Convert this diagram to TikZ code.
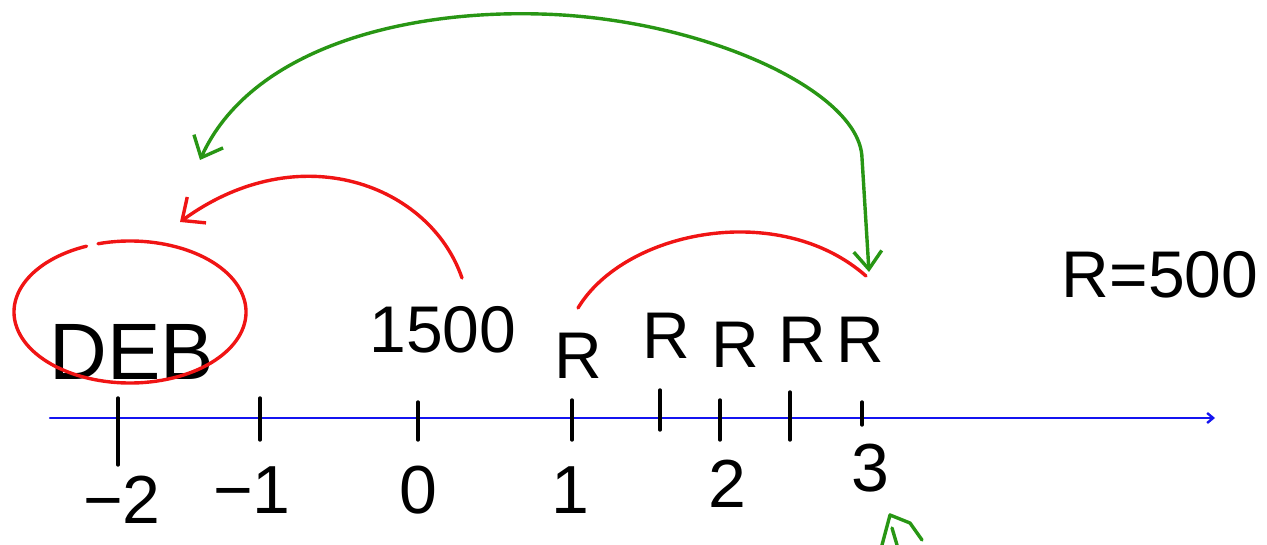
\documentclass[tikz,border=0pt]{standalone}
\usepackage{fontspec}
\setmainfont{Liberation Sans}
\usetikzlibrary{arrows.meta}
\definecolor{penred}{RGB}{240,20,20}
\definecolor{pengreen}{RGB}{40,150,20}
\definecolor{penblue}{RGB}{20,20,240}
\begin{document}
\begin{tikzpicture}[x=0.5pt,y=-0.5pt,line cap=round,line join=round,
  redpen/.style={draw=penred,line width=1.7pt},
  greenpen/.style={draw=pengreen,line width=1.7pt},
  tickline/.style={draw=black,line width=1.7pt},
  bigtxt/.style={inner sep=0pt,font=\fontsize{40}{46}\selectfont},
  midtxt/.style={inner sep=0pt,font=\fontsize{33}{38}\selectfont},
  numtxt/.style={inner sep=0pt,font=\fontsize{34}{40}\selectfont},
  barb/.style={-{Straight Barb[length=9pt,width=16pt,line width=1.7pt]}}]
\useasboundingbox (0,0) rectangle (1267,545);
% axis
\coordinate (axL) at (50,418);
\coordinate (axR) at (1215,418);
\draw[penblue,line width=1.2pt,-{Straight Barb[length=3pt,width=5pt]}] (axL) -- (axR);
% ticks
\foreach \x/\a/\b in {118/398/465,260/398/440,418/402/440,572/400/440,660/390/430,720/400/440,790/392/440,862/402/425}
  \draw[tickline] (\x,\a) -- (\x,\b);
% labels above
\node[bigtxt] (deb) at (132,352) {DEB};
\node[midtxt] (n1500) at (443,330) {1500};
\node[midtxt] (r1) at (578,356) {R};
\node[midtxt] (r2) at (666,336) {R};
\node[midtxt] (r3) at (735,345) {R};
\node[midtxt] (r4) at (802,340) {R};
\node[midtxt] (r5) at (860,340) {R};
\node[midtxt] (req) at (1160,275) {R=500};
% labels below
\node[numtxt] (lm2) at (122,500) {−2};
\node[numtxt] (lm1) at (252,490) {−1};
\node[numtxt] (l0) at (418,490) {0};
\node[numtxt] (l1) at (570,490) {1};
\node[numtxt] (l2) at (727,484) {2};
\node[numtxt] (l3) at (870,468) {3};
% red ellipse around DEB (gap at top)
\coordinate (ec) at (130,312);
\draw[redpen] (ec) ++(254:116 and 71) arc[start angle=254,end angle=608,x radius=116,y radius=71];
% red arrow from 1500 to DEB
\coordinate (rs) at (462,278);
\coordinate (re) at (180,222);
\draw[redpen,barb] (rs) .. controls (430,185) and (300,135) .. (re);
% red arc between R's
\coordinate (a1) at (578,308);
\coordinate (a2) at (866,276);
\draw[redpen] (a1) .. controls (625,230) and (780,200) .. (a2);
% green double arrow
\coordinate (gL) at (200,160);
\coordinate (gT) at (540,14);
\coordinate (gM) at (862,158);
\coordinate (gR) at (869,272);
\draw[greenpen,{Straight Barb[length=9pt,width=16pt,line width=1.7pt]}-{Straight Barb[length=9pt,width=14pt,line width=1.7pt]}]
  (gL) .. controls (250,50) and (400,10) .. (gT) .. controls (700,18) and (860,90) .. (gM) -- (gR);
% green fragment at bottom
\draw[greenpen] (882,545) -- (890,515) -- (910,523) -- (922,540);
\draw[greenpen] (892,528) -- (897,545);
\end{tikzpicture}
\end{document}
